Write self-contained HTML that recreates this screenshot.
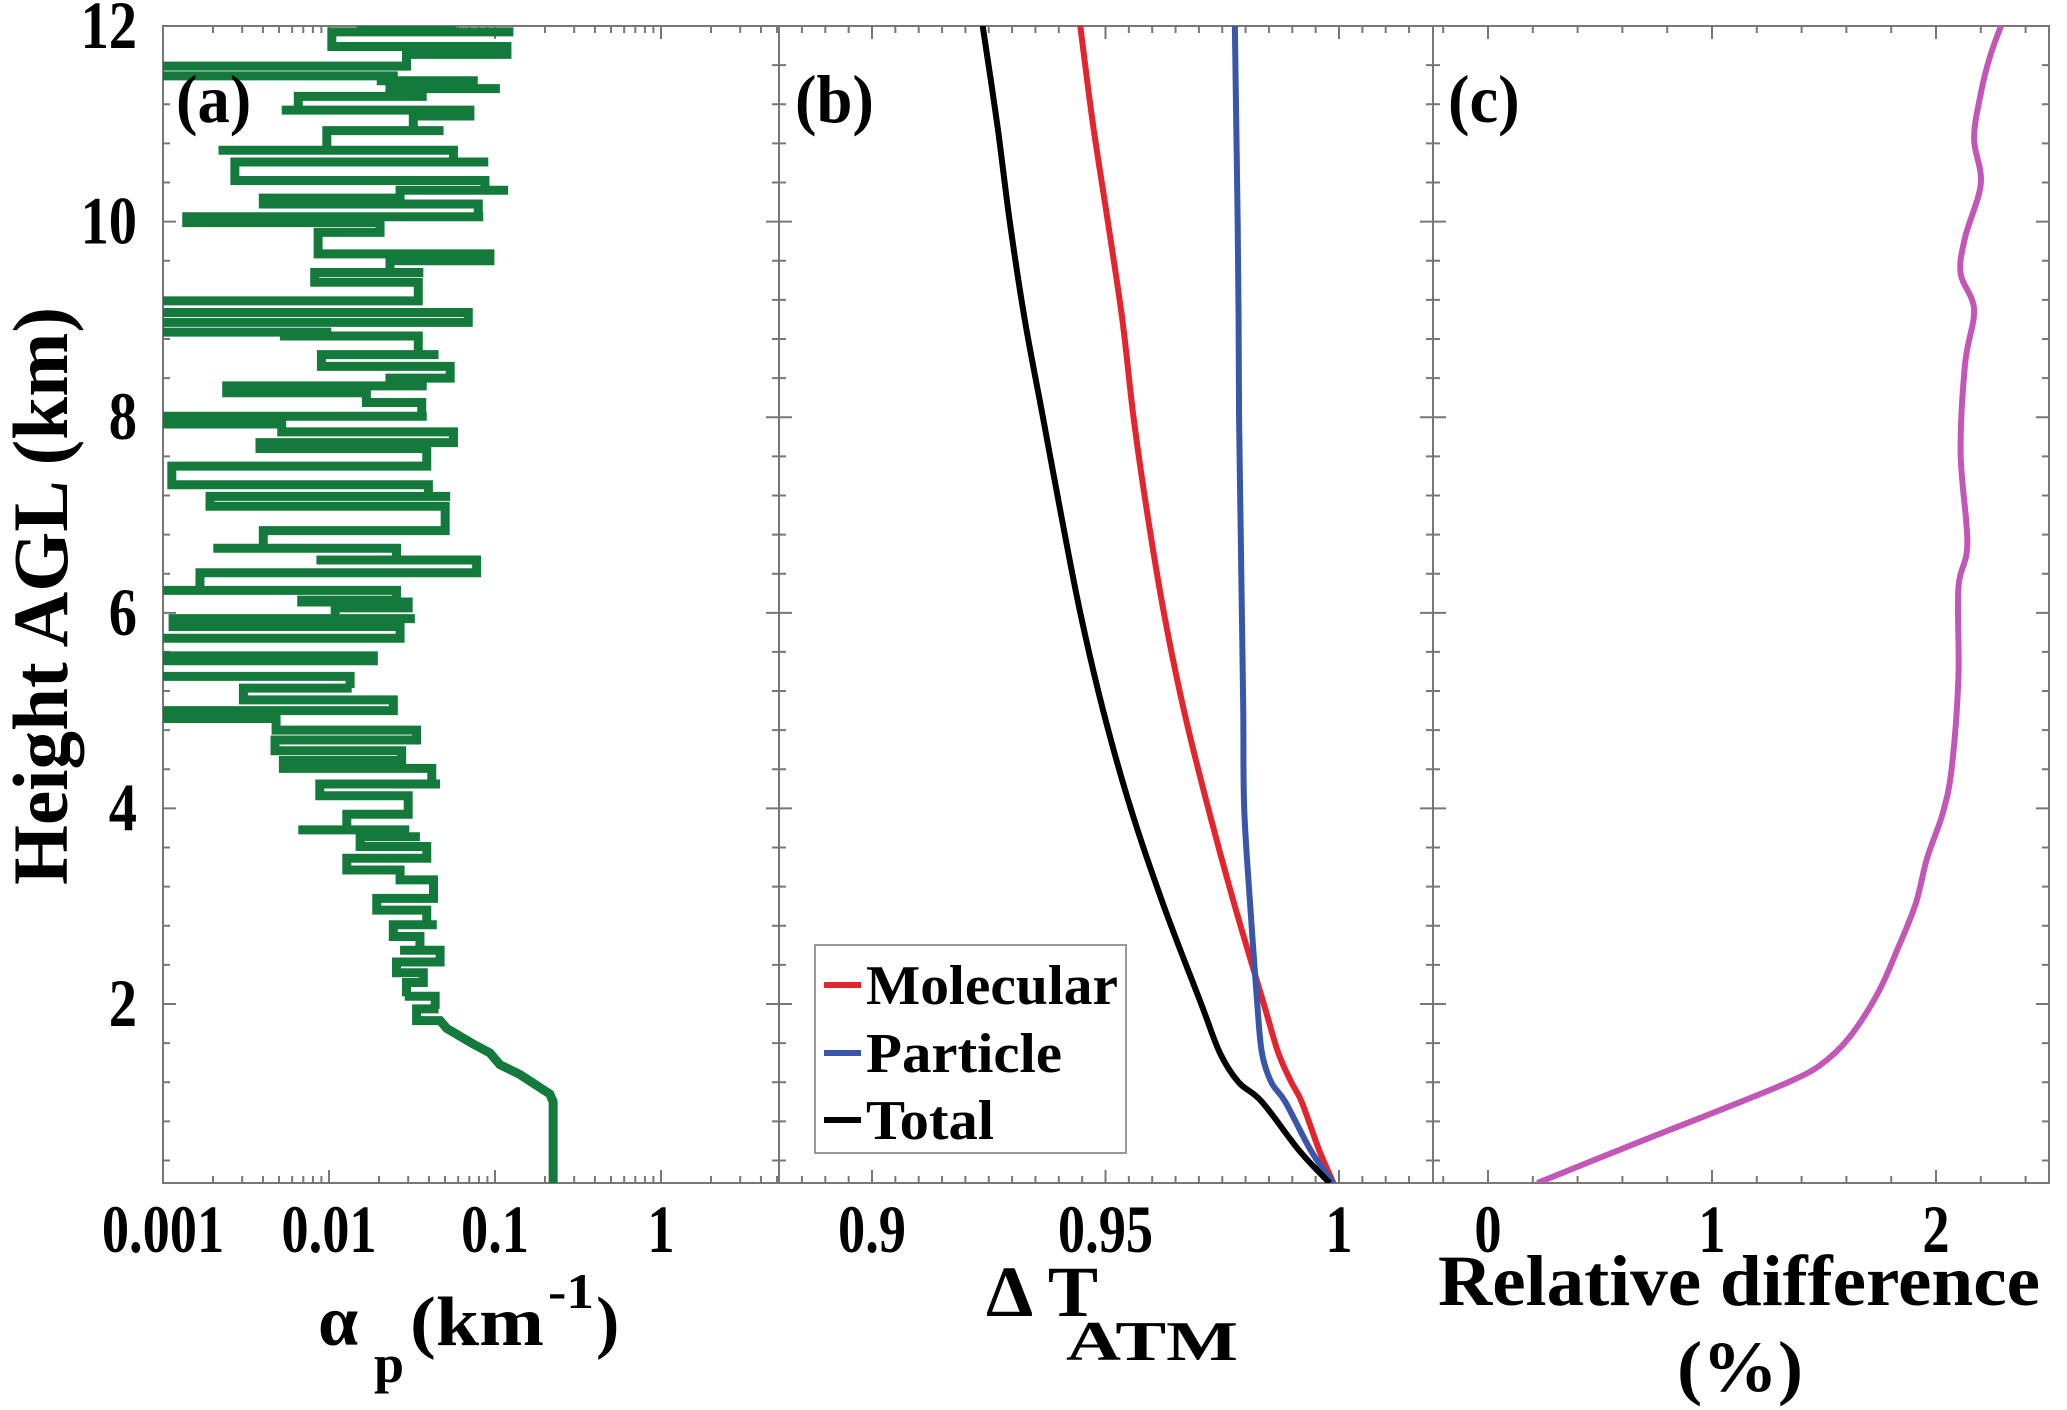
<!DOCTYPE html>
<html><head><meta charset="utf-8">
<style>
html,body{margin:0;padding:0;background:#fff;}
svg{display:block;}
text{font-family:"Liberation Serif",serif;font-weight:bold;fill:#000;}
</style></head>
<body>
<svg id="chart" width="2067" height="1410" viewBox="0 0 2067 1410" xmlns="http://www.w3.org/2000/svg">
<defs>
<clipPath id="clipA"><rect x="163" y="26" width="616" height="1157"/></clipPath>
<clipPath id="clipB"><rect x="779" y="26" width="654" height="1157"/></clipPath>
<clipPath id="clipC"><rect x="1433" y="26" width="616" height="1157"/></clipPath>
</defs>
<g id="layer"></g>
</svg>
<script>
// ---------- Panel (a): particle extinction profile ----------
const alphaHeights = [12.0,11.94,11.79,11.71,11.59,11.49,11.44,11.36,11.28,11.14,11.08,10.93,10.73,10.61,10.42,10.32,10.24,10.18,10.05,9.99,9.89,9.67,9.60,9.48,9.38,9.19,9.07,8.97,8.87,8.83,8.64,8.52,8.40,8.32,8.25,8.15,8.01,7.93,7.85,7.74,7.68,7.50,7.31,7.19,7.09,6.84,6.66,6.54,6.41,6.23,6.13,6.11,6.05,5.94,5.86,5.74,5.56,5.51,5.35,5.23,5.11,5.00,4.92,4.80,4.70,4.59,4.49,4.41,4.25,4.13,3.94,3.78,3.71,3.61,3.49,3.37,3.27,3.08,2.96,2.81,2.69,2.55,2.43,2.32,2.22,2.08,1.95,1.83,1.75,1.59,1.50,1.38,1.28,1.08,1.00,0.17];
const alphaLow = [0.0147,0.0104,0.049,0.0293,0.0009,0.0111,0.0194,0.0233,0.00653,0.00519,0.0322,0.0097,0.00216,0.00271,0.0117,0.0268,0.00402,0.0176,0.00139,0.0084,0.0086,0.0137,0.0233,0.0082,0.0097,0.0009,0.00171,0.0009,0.00247,0.00507,0.009,0.0244,0.0233,0.00242,0.00334,0.0168,0.0009,0.00451,0.0077,0.00384,0.0092,0.00113,0.00473,0.00192,0.0097,0.00402,0.00201,0.0084,0.00167,0.0009,0.00685,0.0070,0.0109,0.00115,0.00175,0.0009,0.00462,0.0009,0.00201,0.00305,0.00519,0.0009,0.0009,0.0077,0.00473,0.00496,0.00531,0.0185,0.0088,0.0111,0.0128,0.00653,0.0154,0.0161,0.0128,0.0154,0.0268,0.0194,0.0244,0.0244,0.0244,0.0268,0.0255,0.030,0.0293,0.0286,0.0337,0.0388,0.0513,0.074,0.0932,0.107,0.141,0.214,0.224,0.224];
const alphaHigh = [0.0549,0.129,0.118,0.107,0.0268,0.0244,0.074,0.107,0.0388,0.0706,0.0446,0.049,0.0562,0.0911,0.087,0.12,0.0255,0.0793,0.085,0.0203,0.014,0.0932,0.0617,0.037,0.0345,0.0111,0.069,0.0255,0.0097,0.0345,0.0457,0.0537,0.0501,0.0388,0.0168,0.0362,0.0388,0.00519,0.0562,0.0092,0.0388,0.0134,0.0397,0.0537,0.0501,0.0185,0.0255,0.0775,0.037,0.0255,0.0111,0.030,0.030,0.0329,0.0268,0.0161,0.0185,0.014,0.0134,0.0137,0.0244,0.014,0.0048,0.0337,0.0233,0.0274,0.0154,0.0416,0.0467,0.030,0.030,0.0286,0.0353,0.0388,0.0293,0.0268,0.0426,0.0388,0.0388,0.0446,0.0353,0.0467,0.037,0.037,0.037,0.0436,0.0457,0.0467,0.0513,0.074,0.0932,0.107,0.141,0.214,0.224,0.224];
const aTickVals = [0.001,0.01,0.1,1];
const aTickLabels = ["0.001","0.01","0.1","1"];

// ---------- Panel (b): transmission ----------
const bHeights = [12,11,10,9,8,7,6,5,4,3,2,1.5,1.2,1.0,0.5,0.17];
const molecular = [0.9446,0.9473,0.9505,0.9536,0.9560,0.9590,0.9625,0.9668,0.9720,0.9777,0.9839,0.9870,0.9898,0.9920,0.9958,0.9988];
const particle  = [0.9777,0.9780,0.9783,0.9785,0.9786,0.9789,0.9792,0.9795,0.9797,0.9810,0.9825,0.9835,0.9855,0.9885,0.9940,0.9988];
const total     = [0.9237,0.9268,0.9295,0.9327,0.9366,0.9405,0.9446,0.9495,0.9554,0.9625,0.9705,0.9745,0.9785,0.9835,0.9915,0.9980];
const bTickVals = [0.9,0.95,1];
const bTickLabels = ["0.9","0.95","1"];

// ---------- Panel (c): relative difference ----------
const cHeights = [12,11.68,11.31,10.85,10.39,9.84,9.47,9.10,8.55,7.63,6.71,6.25,5.33,4.41,3.95,3.49,3.03,2.57,2.11,1.65,1.37,1.19,0.91,0.64,0.17];
const relDiff  = [2.29,2.24,2.20,2.17,2.20,2.13,2.11,2.17,2.13,2.11,2.14,2.10,2.10,2.07,2.03,1.96,1.91,1.83,1.74,1.61,1.48,1.33,1.03,0.73,0.22];
const cTickVals = [0,1,2];
const cTickLabels = ["0","1","2"];

// ---------- Y axis ----------
const yTickVals = [2,4,6,8,10,12];
const yTickLabels = ["2","4","6","8","10","12"];

const NS = "http://www.w3.org/2000/svg";
const layer = document.getElementById('layer');
const TOP = 26, BOT = 1183, YMIN = 0.17, YMAX = 12;
const yS = h => TOP + (YMAX - h) * (BOT - TOP) / (YMAX - YMIN);
const A = {x0:163, x1:779}, B = {x0:779, x1:1433}, C = {x0:1433, x1:2049};
const xA = v => 163 + (Math.log10(v) + 3) * 166;
const xB = v => 872 + (v - 0.9) * 4670;
const xC = v => 1488 + v * 224;

function mk(tag, attrs, parent) {
  const e = document.createElementNS(NS, tag);
  for (const k in attrs) e.setAttribute(k, attrs[k]);
  (parent || layer).appendChild(e);
  return e;
}
function label(x, y, str, size, anchor, sx, name) {
  const t = mk('text', {transform: `translate(${x},${y}) scale(${sx},1)`, 'font-size': size, 'text-anchor': anchor});
  t.textContent = str;
  
  
  return t;
}

function frame(P, name, xMajors, xMinors, xfn) {
  const g = mk('g', {});
  
  
  mk('rect', {x:P.x0, y:TOP, width:P.x1-P.x0, height:BOT-TOP, fill:'none', stroke:'#777', 'stroke-width':2}, g);
  let d = '';
  xMajors.forEach(v => { const x = xfn(v); d += `M${x},${BOT}v-13M${x},${TOP}v13`; });
  xMinors.forEach(v => { const x = xfn(v); if (x > P.x0+1 && x < P.x1-1) d += `M${x},${BOT}v-7M${x},${TOP}v7`; });
  yTickVals.forEach(h => { const y = yS(h); d += `M${P.x0},${y}h13M${P.x1},${y}h-13`; });
  for (let h = 12 - 0.4; h > YMIN; h -= 0.4) { const y = yS(h); d += `M${P.x0},${y}h7M${P.x1},${y}h-7`; }
  mk('path', {d, stroke:'#777', 'stroke-width':2, fill:'none'}, g);
  return g;
}
const aMinor = [];
for (let e = -3; e <= 0; e++) for (let m = 2; m <= 9; m++) aMinor.push(m * Math.pow(10, e));
frame(A, 'panel-a-axes', aTickVals, aMinor, xA);
const bMinor = []; for (let i = 0; i <= 28; i++) bMinor.push(0.88 + i * 0.005);
frame(B, 'panel-b-axes', bTickVals, bMinor, xB);
const cMinor = []; for (let i = -1; i <= 12; i++) cMinor.push(i * 0.2);
frame(C, 'panel-c-axes', cTickVals, cMinor, xC);

// panel a series: step profile (horizontal spans joined vertically)
{
  let d = '';
  let lastX = null;
  const smoothStart = alphaHeights.indexOf(1.75);
  alphaHeights.forEach((h, i) => {
    const y = yS(h), l = xA(alphaLow[i]), r = xA(alphaHigh[i]);
    if (i >= smoothStart) { d += (i === 0 ? 'M' : 'L') + l + ',' + y; lastX = l; return; }
    let a = l, b = r;
    if (lastX !== null && Math.abs(lastX - r) < Math.abs(lastX - l)) { a = r; b = l; }
    if (i === 0) d += `M${a},${y}`; else d += `V${y}H${a}`;
    d += `H${b}`;
    lastX = b;
  });
  const p = mk('path', {d, fill:'none', stroke:'#137a3c', 'stroke-width':9, 'stroke-linejoin':'miter', 'clip-path':'url(#clipA)'});
  
  
}
// smooth line series (Catmull-Rom)
function series(hs, vs, xfn, color, clip, name, w) {
  const P = hs.map((h, i) => [xfn(vs[i]), yS(h)]);
  let d = `M${P[0][0]},${P[0][1]}`;
  for (let i = 0; i < P.length - 1; i++) {
    const p0 = P[Math.max(0, i-1)], p1 = P[i], p2 = P[i+1], p3 = P[Math.min(P.length-1, i+2)];
    const c1 = [p1[0] + (p2[0]-p0[0])/6, p1[1] + (p2[1]-p0[1])/6];
    const c2 = [p2[0] - (p3[0]-p1[0])/6, p2[1] - (p3[1]-p1[1])/6];
    d += `C${c1[0]},${c1[1]} ${c2[0]},${c2[1]} ${p2[0]},${p2[1]}`;
  }
  const p = mk('path', {d, fill:'none', stroke:color, 'stroke-width':w, 'stroke-linejoin':'round', 'clip-path':clip});
  
  
}
series(bHeights, molecular, xB, '#e3262d', 'url(#clipB)', 'molecular-line', 6);
series(bHeights, particle, xB, '#3a56a8', 'url(#clipB)', 'particle-line', 6);
series(bHeights, total, xB, '#000', 'url(#clipB)', 'total-line', 6);
series(cHeights, relDiff, xC, '#c257b8', 'url(#clipC)', 'relative-difference-line', 6);

// legend
{
  const g = mk('g', {});
  
  
  mk('rect', {x:815, y:945, width:311, height:208, fill:'#fff', stroke:'#999', 'stroke-width':2}, g);
  const names = ['Molecular','Particle','Total'], cols = ['#e3262d','#3a56a8','#000'], ys = [985,1053,1120], lens = [252,196,128];
  names.forEach((n, i) => {
    const ln = mk('line', {x1:824, x2:861, y1:ys[i], y2:ys[i], stroke:cols[i], 'stroke-width':6}, g);
    
    
    const t = mk('text', {x:866, y:ys[i] + 19, 'font-size':56, textLength:lens[i], lengthAdjust:'spacingAndGlyphs'}, g);
    t.textContent = n;
    
    
  });
}

aTickVals.forEach((v, i) => label(xA(v), 1252, aTickLabels[i], 68, 'middle', 0.8, 'x-tick-a'));
bTickVals.forEach((v, i) => label(xB(v), 1252, bTickLabels[i], 68, 'middle', 0.8, 'x-tick-b'));
cTickVals.forEach((v, i) => label(xC(v), 1252, cTickLabels[i], 68, 'middle', 0.8, 'x-tick-c'));
yTickVals.forEach((v, i) => label(137, yS(v) + 22, yTickLabels[i], 68, 'end', 0.83, 'y-tick'));

label(176, 122, '(a)', 68, 'start', 0.95, 'panel-label-a');
label(795, 122, '(b)', 68, 'start', 0.95, 'panel-label-b');
label(1448, 122, '(c)', 68, 'start', 0.95, 'panel-label-c');
</script>
<script>
(function(){
  const NS = "http://www.w3.org/2000/svg";
  const svg = document.getElementById('chart');
  function t(attrs, str, name) {
    const e = document.createElementNS(NS, 'text');
    for (const k in attrs) e.setAttribute(k, attrs[k]);
    e.textContent = str;
    
    
    svg.appendChild(e);
  }
  t({transform:'translate(67,596) rotate(-90)', 'font-size':78, 'text-anchor':'middle', textLength:578, lengthAdjust:'spacingAndGlyphs'}, 'Height AGL (km)', 'y-axis-title');
  t({x:318, y:1345, 'font-size':72}, 'α', 'x-title-a-alpha');
  t({x:374, y:1382, 'font-size':54}, 'p', 'x-title-a-subscript');
  t({x:410, y:1345, 'font-size':70, textLength:134, lengthAdjust:'spacingAndGlyphs'}, '(km', 'x-title-a-unit');
  t({x:548, y:1308, 'font-size':50, textLength:46, lengthAdjust:'spacingAndGlyphs'}, '-1', 'x-title-a-superscript');
  t({x:596, y:1345, 'font-size':70}, ')', 'x-title-a-paren');
  t({x:986, y:1316, 'font-size':72, textLength:112, lengthAdjust:'spacingAndGlyphs'}, 'Δ T', 'x-title-b');
  t({x:1066, y:1360, 'font-size':56, textLength:172, lengthAdjust:'spacingAndGlyphs'}, 'ATM', 'x-title-b-subscript');
  t({x:1438, y:1305, 'font-size':72, textLength:602, lengthAdjust:'spacingAndGlyphs'}, 'Relative difference', 'x-title-c');
  t({x:1740, y:1391, 'font-size':72, 'text-anchor':'middle', textLength:126, lengthAdjust:'spacingAndGlyphs'}, '(%)', 'x-title-c-unit');
})();
</script>
</body></html>
